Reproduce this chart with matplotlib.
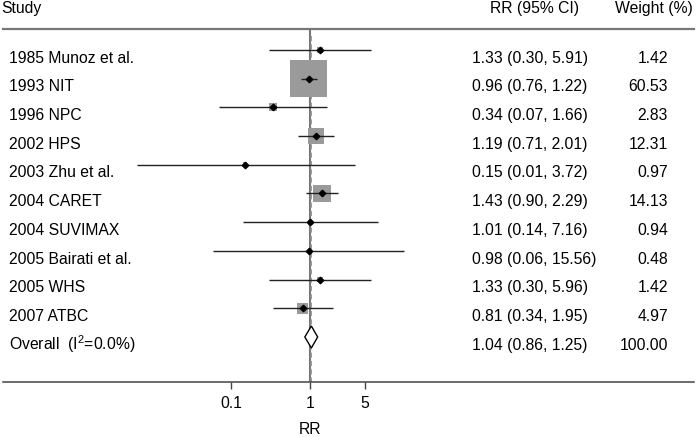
import matplotlib
matplotlib.use("Agg")
import matplotlib.pyplot as plt
import matplotlib.transforms as mtransforms
from matplotlib.patches import Polygon
import numpy as np

plt.rcParams['font.family'] = ['Liberation Sans', 'DejaVu Sans']
plt.rcParams['mathtext.fontset'] = 'custom'
plt.rcParams['mathtext.rm'] = 'Liberation Sans'
plt.rcParams['mathtext.it'] = 'Liberation Sans'
plt.rcParams['mathtext.default'] = 'regular'

studies = ["1985 Munoz et al.", "1993 NIT", "1996 NPC", "2002 HPS", "2003 Zhu et al.",
           "2004 CARET", "2004 SUVIMAX", "2005 Bairati et al.", "2005 WHS", "2007 ATBC"]
rr = [1.33, 0.96, 0.34, 1.19, 0.15, 1.43, 1.01, 0.98, 1.33, 0.81]
ci_lo = [0.30, 0.76, 0.07, 0.71, 0.0064, 0.90, 0.14, 0.06, 0.30, 0.34]
ci_hi = [5.91, 1.22, 1.66, 2.01, 3.72, 2.29, 7.16, 15.56, 5.96, 1.95]
weights = [1.42, 60.53, 2.83, 12.31, 0.97, 14.13, 0.94, 0.48, 1.42, 4.97]
overall_label = "Overall  (I$^{2}$=0.0%)"
overall_rr, overall_lo, overall_hi, overall_w = 1.04, 0.86, 1.25, 100.00
xticks = [0.1, 1, 5]
xticklabels = ["0.1", "1", "5"]

W, H = 697, 437
FS = 11.3
fig = plt.figure(figsize=(W / 100, H / 100), dpi=100)
ax = fig.add_axes([3 / W, (H - 382) / H, 691 / W, (382 - 29) / H])
ax.set_xscale('log')
ax.set_xlim(10 ** ((3 - 310) / 79), 10 ** ((694 - 310) / 79))
row_px0, row_step = 50, 28.7
ax.set_ylim((382 - row_px0) / row_step, (29 - row_px0) / row_step)

for s in ['left', 'right']:
    ax.spines[s].set_visible(False)
ax.spines['top'].set_color('#777777')
ax.spines['top'].set_linewidth(1.6)
ax.spines['bottom'].set_color('#444444')
ax.spines['bottom'].set_linewidth(1.1)
ax.set_yticks([])
ax.set_xticks(xticks)
ax.set_xticklabels(xticklabels)
ax.xaxis.set_minor_locator(matplotlib.ticker.NullLocator())
ax.tick_params(axis='x', length=5, width=1, color='#444444', labelsize=FS, pad=5)

# reference lines
ax.axvline(1, color='#777777', lw=1.5, zorder=1)
n = len(studies)
ax.plot([overall_rr, overall_rr], [-0.5, (382 - row_px0) / row_step], ls='--',
        color='#8a8a8a', lw=1.2, zorder=1, dashes=(3, 2))

ys = np.arange(n)
# boxes
side_px = 4.76 * np.sqrt(np.array(weights))
ax.scatter(rr, ys, s=(side_px * 0.72) ** 2, marker='s', color='#9a9a9a', zorder=2, linewidths=0)
ax.hlines(ys, ci_lo, ci_hi, color='#222222', lw=1.0, zorder=3)
ax.plot(rr, ys, 'D', color='black', markersize=3.3, zorder=4)

# overall diamond
yo = n
h = 11 / row_step
diamond = Polygon([(overall_lo, yo), (overall_rr, yo - h), (overall_hi, yo), (overall_rr, yo + h)],
                  closed=True, facecolor='white', edgecolor='black', lw=1.0, zorder=4)
ax.add_patch(diamond)

# text columns (baseline aligned)
tr = mtransforms.blended_transform_factory(fig.transFigure, ax.transData)
off = 0.44
hdr_y = (13 - row_px0) / row_step
kw = dict(transform=tr, fontsize=FS, va='baseline', clip_on=False)
ax.text(1 / W, hdr_y, "Study", ha='left', **kw)
ax.text(490 / W, hdr_y, "RR (95% CI)", ha='left', **kw)
ax.text(693 / W, hdr_y, "Weight (%)", ha='right', **kw)

labels = studies + [overall_label]
all_rr = rr + [overall_rr]
all_lo = ci_lo + [overall_lo]
all_hi = ci_hi + [overall_hi]
all_w = weights + [overall_w]
for i in range(n + 1):
    y = i + off
    ax.text(9 / W, y, labels[i], ha='left', **kw)
    ax.text(472 / W, y, f"{all_rr[i]:.2f} ({all_lo[i]:.2f}, {all_hi[i]:.2f})", ha='left', **kw)
    ax.text(668 / W, y, f"{all_w[i]:.2f}", ha='right', **kw)

ax.text(1, (430 - row_px0) / row_step, "RR", fontsize=FS, ha='center', va='center', clip_on=False)

fig.savefig("out.png", dpi=100)
